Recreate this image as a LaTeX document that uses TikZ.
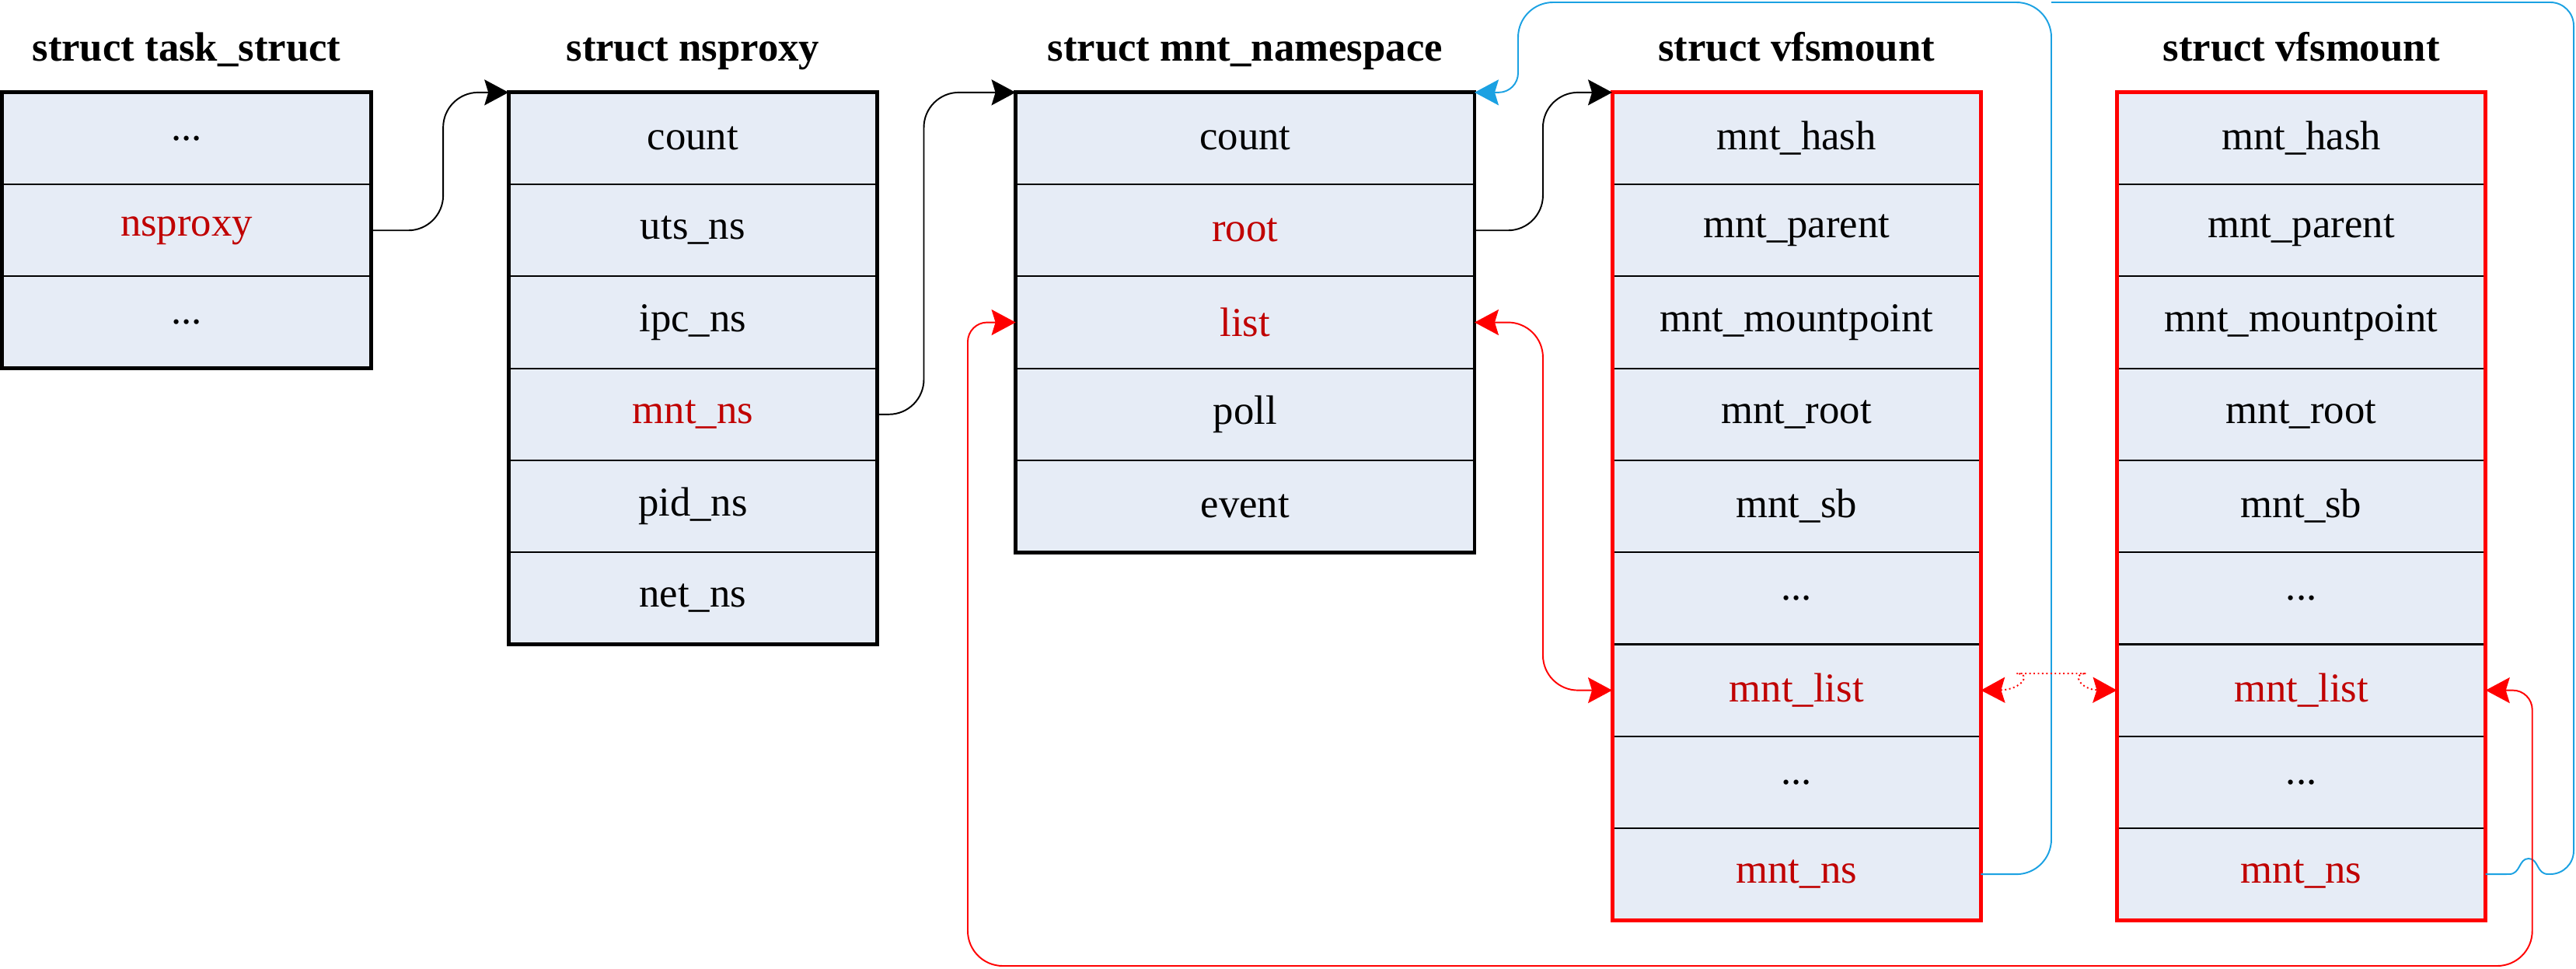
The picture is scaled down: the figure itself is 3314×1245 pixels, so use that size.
\documentclass[tikz,border=0pt]{standalone}
\usepackage{fontspec}
\setmainfont{Liberation Serif}
\usepackage{xcolor}
\definecolor{fieldbg}{HTML}{E6ECF6}
\definecolor{keyred}{HTML}{C00000}
\definecolor{listred}{HTML}{FF0000}
\definecolor{nsblue}{HTML}{1BA1E2}
\usetikzlibrary{arrows.meta, positioning}

\begin{document}
\begin{tikzpicture}[x=0.01cm, y=-0.01cm, font=\fontsize{15}{18}\selectfont,
  field/.style={draw, line width=0.6pt, fill=fieldbg, minimum width=4.74cm,
    minimum height=1.182cm, inner sep=0pt, outer sep=0pt},
  keyfield/.style={field, text=keyred},
  title/.style={font=\fontsize{15}{18}\selectfont\bfseries, inner sep=0pt, text depth=0.25em},
  frame/.style={line width=1.4pt},
  ptrhead/.tip={Stealth[length=3.1mm, width=3.3mm, inset=0.5mm]},
  link/.style={line width=0.55pt, rounded corners=0.45cm},
  ptr/.style={link, -ptrhead}]
  \useasboundingbox (0,0) rectangle (3314,1245);

  % task_struct
  \node[field] (tsk1) at (240,178) {...};
  \node[keyfield, below=0pt of tsk1] (tsk2) {nsproxy};
  \node[field, below=0pt of tsk2] (tsk3) {...};
  \draw[frame] (tsk1.north west) rectangle (tsk3.south east);
  \node[title, above=0.31cm of tsk1] (tsk-title) {struct task\_struct};

  % nsproxy
  \node[field, right=1.77cm of tsk1] (nsp1) {count};
  \node[field, below=0pt of nsp1] (nsp2) {uts\_ns};
  \node[field, below=0pt of nsp2] (nsp3) {ipc\_ns};
  \node[keyfield, below=0pt of nsp3] (nsp4) {mnt\_ns};
  \node[field, below=0pt of nsp4] (nsp5) {pid\_ns};
  \node[field, below=0pt of nsp5] (nsp6) {net\_ns};
  \draw[frame] (nsp1.north west) rectangle (nsp6.south east);
  \node[title, above=0.31cm of nsp1] (nsp-title) {struct nsproxy};

  % mnt_namespace
  \node[field, minimum width=5.9cm, right=1.78cm of nsp1] (mns1) {count};
  \node[keyfield, minimum width=5.9cm, below=0pt of mns1] (mns2) {root};
  \node[keyfield, minimum width=5.9cm, below=0pt of mns2] (mns3) {list};
  \node[field, minimum width=5.9cm, below=0pt of mns3] (mns4) {poll};
  \node[field, minimum width=5.9cm, below=0pt of mns4] (mns5) {event};
  \draw[frame] (mns1.north west) rectangle (mns5.south east);
  \node[title, above=0.31cm of mns1] (mns-title) {struct mnt\_namespace};

  % first vfsmount
  \node[field, right=1.77cm of mns1] (vfsa1) {mnt\_hash};
  \node[field, below=0pt of vfsa1] (vfsa2) {mnt\_parent};
  \node[field, below=0pt of vfsa2] (vfsa3) {mnt\_mountpoint};
  \node[field, below=0pt of vfsa3] (vfsa4) {mnt\_root};
  \node[field, below=0pt of vfsa4] (vfsa5) {mnt\_sb};
  \node[field, below=0pt of vfsa5] (vfsa6) {...};
  \node[keyfield, below=0pt of vfsa6] (vfsa7) {mnt\_list};
  \node[field, below=0pt of vfsa7] (vfsa8) {...};
  \node[keyfield, below=0pt of vfsa8] (vfsa9) {mnt\_ns};
  \draw[frame, listred] (vfsa1.north west) rectangle (vfsa9.south east);
  \node[title, above=0.31cm of vfsa1] (vfsa-title) {struct vfsmount};

  % second vfsmount
  \node[field, right=1.75cm of vfsa1] (vfsb1) {mnt\_hash};
  \node[field, below=0pt of vfsb1] (vfsb2) {mnt\_parent};
  \node[field, below=0pt of vfsb2] (vfsb3) {mnt\_mountpoint};
  \node[field, below=0pt of vfsb3] (vfsb4) {mnt\_root};
  \node[field, below=0pt of vfsb4] (vfsb5) {mnt\_sb};
  \node[field, below=0pt of vfsb5] (vfsb6) {...};
  \node[keyfield, below=0pt of vfsb6] (vfsb7) {mnt\_list};
  \node[field, below=0pt of vfsb7] (vfsb8) {...};
  \node[keyfield, below=0pt of vfsb8] (vfsb9) {mnt\_ns};
  \draw[frame, listred] (vfsb1.north west) rectangle (vfsb9.south east);
  \node[title, above=0.31cm of vfsb1] (vfsb-title) {struct vfsmount};

  % pointers
  \draw[ptr] (tsk2.east) -- ++(93,0) |- (nsp1.north west);
  \draw[ptr] (nsp4.east) -- ++(60,0) |- (mns1.north west);
  \draw[ptr] (mns2.east) -- ++(88,0) |- (vfsa1.north west);

  % mnt_ns back to the namespace
  \draw[ptr, nsblue] (vfsa9.east) -| (2639,3) -- (1953,3)
    [rounded corners=0.25cm] |- (mns1.north east);
  \draw[link, nsblue, sharp corners] (vfsb9.east) -- (3228,1124)
    .. controls (3243,1124) and (3240,1104) .. (3253,1104)
    .. controls (3266,1104) and (3263,1124) .. (3278,1124)
    [rounded corners=0.3cm] -- (3311,1124) -- (3311,3) -- (2639,3);

  % mount list
  \draw[link, listred, ptrhead-ptrhead] (mns3.east) -- ++(88,0) |- (vfsa7.west);
  \draw[link, listred, densely dotted, ptrhead-ptrhead] (vfsa7.east)
    .. controls (2600,887) and (2615,866) .. (2639,866)
    .. controls (2663,866) and (2678,887) .. (vfsb7.west);
  \draw[link, listred, ptrhead-ptrhead, rounded corners=0.25cm] (vfsb7.east) -- ++(60,0)
    [rounded corners=0.45cm] |- (1245,1242) [rounded corners=0.25cm] |- (mns3.west);
\end{tikzpicture}
\end{document}
